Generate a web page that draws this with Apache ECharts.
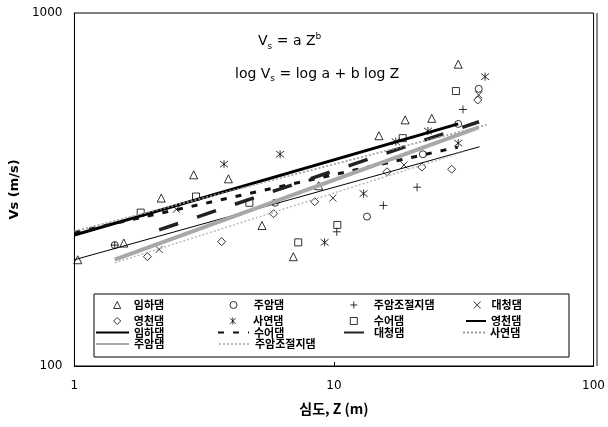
<!DOCTYPE html>
<html><head><meta charset="utf-8">
<script src="https://cdn.jsdelivr.net/npm/echarts@6/dist/echarts.min.js"></script>
<style>html,body{margin:0;padding:0;background:#fff}#c{width:608px;height:427px}</style>
</head><body><div id="c"></div>
<script>
// ---- tick labels ----
const xTicks = [1, 10, 100];
const yTicks = [100, 1000];

// ---- measured points [depth Z (m), Vs (m/s)] ----
const imhaPts = [[1.03,200],[1.55,223],[2.16,299],[2.88,348],[3.92,339],[5.28,250],[6.97,204],[8.73,324],[14.9,449],[18.8,498],[23.8,503],[30.1,716]];
const juamPts = [[1.43,220],[5.93,290],[13.4,265],[22.0,398],[30.1,485],[36.1,610]];
const juamJPts = [[1.43,220],[10.25,240],[15.5,285],[20.9,321],[31.4,533]];
const daecheongPts = [[2.12,214],[2.47,278],[9.9,299],[18.6,371],[36.1,586]];
const yeongcheonPts = [[1.91,204],[3.69,225],[5.85,270],[8.43,292],[16.0,355],[21.8,366],[28.4,361],[35.8,567]];
const sayeonPts = [[3.77,373],[6.2,398],[9.2,224],[13.0,308],[17.3,432],[23.0,463],[30.1,428],[38.2,660]];
const sueoPts = [[1.8,272],[2.94,302],[4.72,290],[7.28,224],[10.3,251],[18.4,442],[29.5,601]];

// ---- regression lines (end points) ----
const yeongcheonFit = [[1,200],[36.4,418]];
const imhaFit = [[1,235],[30.1,485]];
const sueoFit = [[1,239],[30,417]];
const daecheongFit = [[2.12,243],[36.2,492]];
const sayeonFit = [[1,241],[38.8,482]];
const juamFit = [[1.43,200],[36.1,474]];
const juamJFit = [[1.43,196],[31.4,404]];

const FF = "'DejaVu Sans','Noto Sans CJK KR',sans-serif";
const KF = "'Noto Sans CJK KR','DejaVu Sans',sans-serif";
const PLUS = 'path://M5,0L5,10M0,5L10,5';
const CROSS = 'path://M0,0L10,10M0,10L10,0';
const AST = 'path://M5,0L5,10M1,1L9,9M1,9L9,1';

const scatterDefs = [
  {name:'임하댐', data:imhaPts, symbol:'triangle', size:8},
  {name:'주암댐', data:juamPts, symbol:'circle', size:7},
  {name:'주암조절지댐', data:juamJPts, symbol:PLUS, size:8},
  {name:'대청댐', data:daecheongPts, symbol:CROSS, size:7},
  {name:'영천댐', data:yeongcheonPts, symbol:'diamond', size:8},
  {name:'사연댐', data:sayeonPts, symbol:AST, size:8},
  {name:'수어댐', data:sueoPts, symbol:'rect', size:7}
];
const lineDefs = [
  {name:'영천댐 선', data:yeongcheonFit, color:'#000', width:1, type:'solid'},
  {name:'임하댐 선', data:imhaFit, color:'#000', width:3, type:'solid'},
  {name:'수어댐 선', data:sueoFit, color:'#111', width:3, type:[6,9]},
  {name:'대청댐 선', data:daecheongFit, color:'#222', width:3.5, type:[20,20]},
  {name:'사연댐 선', data:sayeonFit, color:'#999', width:1.5, type:[2,2]},
  {name:'주암댐 선', data:juamFit, color:'#a8a8a8', width:4, type:'solid'},
  {name:'주암조절지댐 선', data:juamJFit, color:'#bbb', width:1.5, type:[2,2]}
];

// legend layout for markers: name, symbol centre x, centre y, text start x
const markerLegend = [
  ['임하댐',116.7,305.5,133.3],['주암댐',233,305.5,253.3],['주암조절지댐',353.3,305.5,373.3],['대청댐',476.7,305.5,491],
  ['영천댐',116.7,321.5,133.3],['사연댐',233,321.5,253.3],['수어댐',353.3,321.5,373.3]
];
// legend layout for lines: name, left, centre y, sample width
const lineLegend = [
  ['영천댐 선',465,321.5,20],
  ['임하댐 선',95,333,33],['수어댐 선',217,333,31],['대청댐 선',343,333,25],['사연댐 선',462,333,22],
  ['주암댐 선',95,344.5,33],['주암조절지댐 선',218,344.5,31]
];

const series = [];
scatterDefs.forEach(d => series.push({
  type:'scatter', name:d.name, data:d.data, symbol:d.symbol, symbolSize:d.size, z:2,
  itemStyle:{color:'rgba(0,0,0,0)', borderColor:'#000', borderWidth:1}
}));
lineDefs.forEach(d => series.push({
  type:'line', name:d.name, data:d.data, symbol:'none', showSymbol:false, z:3,
  lineStyle:{color:d.color, width:d.width, type:d.type}, itemStyle:{color:d.color}
}));

const legendText = {fontFamily:KF, fontWeight:'bold', fontSize:11, color:'#000'};
const SZ = 7;
const legends = [];
markerLegend.forEach(([n,cx,cy,tx]) => legends.push({
  data:[n], left:cx - SZ/2, top:cy-6, itemWidth:SZ, itemHeight:SZ, itemGap:0, padding:0,
  selectedMode:false,
  itemStyle:{color:'rgba(0,0,0,0)', borderColor:'#000', borderWidth:1},
  textStyle:Object.assign({padding:[0,0,0,Math.max(0, tx - (cx + SZ/2) - 5)]}, legendText)
}));
lineLegend.forEach(([n,l,cy,w]) => legends.push({
  data:[n], left:l, top:cy-6, itemWidth:w, itemHeight:7, itemGap:0, padding:0,
  selectedMode:false, formatter:name => name.replace(/ 선$/, ''),
  itemStyle:{color:'rgba(0,0,0,0)', borderWidth:0, opacity:0},
  textStyle:legendText
}));

const eqRich = {
  a:{fontFamily:FF, fontSize:14, lineHeight:19, verticalAlign:'middle'},
  s:{fontFamily:FF, fontSize:9, lineHeight:9, verticalAlign:'bottom'},
  p:{fontFamily:FF, fontSize:9, lineHeight:9, verticalAlign:'top'}
};

const chart = echarts.init(document.getElementById('c'), null, {renderer:'canvas'});
chart.setOption({
  animation:false,
  backgroundColor:'#fff',
  grid:{left:72, right:11, top:13, bottom:61, show:true, borderColor:'#000', borderWidth:1},
  xAxis:{type:'log', logBase:10, min:1, max:100,
    name:'심도, Z (m)', nameLocation:'middle', nameGap:36,
    nameTextStyle:{fontFamily:KF, fontWeight:'bold', fontSize:14, color:'#000'},
    axisLine:{lineStyle:{color:'#000', width:1}},
    axisTick:{show:true, inside:true, length:4, lineStyle:{color:'#000'}},
    minorTick:{show:false}, splitLine:{show:false},
    axisLabel:{margin:14, fontFamily:FF, fontSize:12, color:'#000',
      formatter:v => xTicks.includes(Math.round(v)) ? String(Math.round(v)) : ''}
  },
  yAxis:{type:'log', logBase:10, min:100, max:1000,
    name:'Vs (m/s)', nameLocation:'middle', nameGap:47, nameRotate:90,
    nameTextStyle:{fontFamily:FF, fontWeight:'bold', fontSize:13, color:'#000'},
    axisLine:{show:true, lineStyle:{color:'#000', width:1}},
    axisTick:{show:false}, minorTick:{show:false}, splitLine:{show:false},
    axisLabel:{margin:12, fontFamily:FF, fontSize:12, color:'#000',
      formatter:v => yTicks.includes(Math.round(v)) ? String(Math.round(v)) : ''}
  },
  legend: legends,
  graphic:[
    {type:'rect', shape:{x:94, y:294, width:475, height:63}, style:{fill:'#fff', stroke:'#000', lineWidth:1}, z:-1, silent:true},
    {type:'line', shape:{x1:597, y1:13, x2:597, y2:366}, style:{stroke:'#888', lineWidth:2}, z:10, silent:true},
    {type:'text', left:258, top:32, silent:true, style:{text:'{a|V}{s|s}{a| = a Z}{p|b}', fill:'#000', rich:eqRich}},
    {type:'text', left:235, top:67, silent:true, style:{text:'{a|log V}{s|s}{a| = log a + b log Z}', fill:'#000', rich:eqRich}}
  ],
  series
});
</script></body></html>
